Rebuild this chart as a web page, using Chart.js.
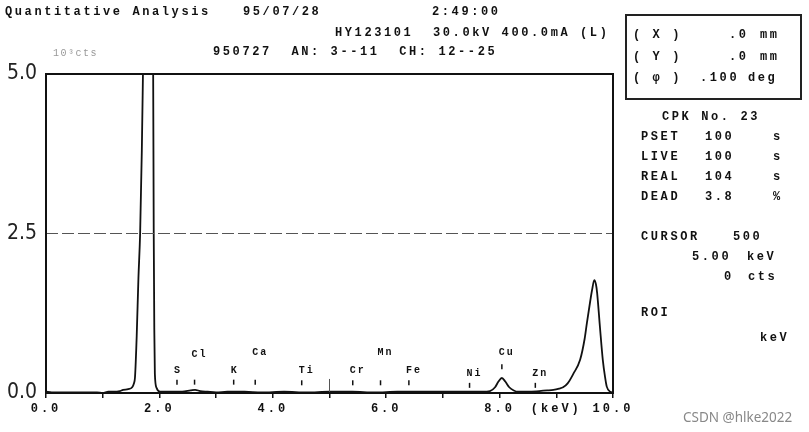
<!DOCTYPE html>
<html>
<head>
<meta charset="utf-8">
<script src="https://cdn.jsdelivr.net/npm/chart.js@4"></script>
<style>
  html, body { margin: 0; padding: 0; background: #fff; }
  #wrap { position: relative; width: 809px; height: 432px; overflow: hidden; }
  #wrap canvas { position: absolute; left: 0; top: 0; }
  .t { position: absolute; font-family: "Liberation Mono", "DejaVu Sans Mono", monospace; font-weight: bold;
       font-size: 12px; line-height: 14px; letter-spacing: 2.6px; color: #111; white-space: pre; }
  #box { position: absolute; left: 625px; top: 14px; width: 173px; height: 82px; border: 2px solid #222; }
  .wm { position: absolute; font-family: "Noto Sans", "DejaVu Sans", sans-serif; font-size: 13.5px; line-height: 16px; color: #888; white-space: pre; }
</style>
</head>
<body>
<div id="wrap">
  <canvas id="c" width="809" height="432"></canvas>
  <div id="box"></div>
</div>
<script>
// ---- data ----
const spectrumEnergy = [0.00, 0.10, 0.30, 0.50, 0.70, 0.90, 1.00, 1.10, 1.20, 1.30, 1.36, 1.45, 1.52, 1.55, 1.57, 1.60, 1.63, 1.66, 1.69, 1.71, 1.75, 1.80, 1.85, 1.89, 1.90, 1.91, 1.92, 1.95, 2.01, 2.20, 2.40, 2.55, 2.63, 2.72, 2.85, 3.00, 3.20, 3.50, 3.80, 4.20, 4.60, 5.00, 5.40, 5.80, 6.20, 6.60, 7.00, 7.40, 7.70, 7.83, 7.92, 7.98, 8.04, 8.10, 8.17, 8.25, 8.32, 8.50, 8.70, 8.84, 8.95, 9.05, 9.12, 9.20, 9.30, 9.42, 9.50, 9.54, 9.60, 9.63, 9.67, 9.70, 9.72, 9.77, 9.82, 9.86, 9.89, 9.95, 10.00];
const spectrumCounts = [0.02, 0.01, 0.01, 0.01, 0.01, 0.01, 0.00, 0.02, 0.02, 0.03, 0.05, 0.06, 0.09, 0.15, 0.25, 0.90, 1.80, 2.50, 3.80, 5.00, 7.50, 9.00, 7.50, 5.00, 2.50, 1.00, 0.30, 0.08, 0.02, 0.02, 0.02, 0.04, 0.05, 0.03, 0.02, 0.01, 0.02, 0.02, 0.01, 0.02, 0.01, 0.02, 0.02, 0.01, 0.02, 0.02, 0.02, 0.02, 0.02, 0.03, 0.09, 0.18, 0.235, 0.18, 0.09, 0.04, 0.02, 0.02, 0.03, 0.04, 0.05, 0.07, 0.09, 0.15, 0.30, 0.52, 0.85, 1.10, 1.45, 1.61, 1.77, 1.70, 1.57, 1.03, 0.52, 0.25, 0.10, 0.02, 0.01];

const elementNames    = ["S", "Cl", "K", "Ca", "Ti", "Cr", "Mn", "Fe", "Ni", "Cu", "Zn"];
const elementEnergies = [2.31, 2.62, 3.31, 3.69, 4.51, 5.41, 5.90, 6.40, 7.47, 8.04, 8.63];
const elementLabelLevels  = [0.36, 0.60, 0.36, 0.64, 0.36, 0.36, 0.64, 0.36, 0.31, 0.63, 0.31];
const elementMarkerLevels = [0.17, 0.17, 0.17, 0.17, 0.16, 0.16, 0.16, 0.16, 0.12, 0.41, 0.12];

const xMin = 0, xMax = 10, xStep = 1;
const yMin = 0, yMax = 5, yStep = 2.5;
const xUnitTickValue = 9, xUnitLabel = "(keV)";
const referenceLevel = 2.5;
const cursorEnergy = 5.0, cursorHeight = 0.22;
const yUnitLabel = "10\u00B3cts";

// ---- header / panel text ----
const texts = [
  ["Quantitative Analysis", 5, 5], ["95/07/28", 243, 5], ["2:49:00", 432, 5],
  ["HY123101  30.0kV 400.0mA (L)", 335, 26],
  ["950727  AN: 3--11  CH: 12--25", 213, 45],
  ["( X )", 633, 28], [".0", 729, 28], ["mm", 760, 28],
  ["( Y )", 633, 50], [".0", 729, 50], ["mm", 760, 50],
  ["( \u03C6 )", 633, 71], [".100", 700, 71], ["deg", 748, 71],
  ["CPK No. 23", 662, 110],
  ["PSET", 641, 130], ["100", 705, 130], ["s", 773, 130],
  ["LIVE", 641, 150], ["100", 705, 150], ["s", 773, 150],
  ["REAL", 641, 170], ["104", 705, 170], ["s", 773, 170],
  ["DEAD", 641, 190], ["3.8", 705, 190], ["%", 773, 190],
  ["CURSOR", 641, 230], ["500", 733, 230],
  ["5.00", 692, 250], ["keV", 747, 250],
  ["0", 724, 270], ["cts", 748, 270],
  ["ROI", 641, 306],
  ["keV", 760, 331]
];
const wrap = document.getElementById('wrap');
texts.forEach(([s, x, y]) => {
  const d = document.createElement('div');
  d.className = 't'; d.textContent = s; d.style.left = x + 'px'; d.style.top = y + 'px';
  wrap.appendChild(d);
});
const u = document.createElement('div');
u.className = 't'; u.textContent = yUnitLabel;
u.style.cssText = 'left:53px;top:47px;font-size:10px;font-weight:normal;color:#999;letter-spacing:1.5px;';
wrap.appendChild(u);
const wm = document.createElement('div');
wm.className = 'wm'; wm.textContent = 'CSDN @hlke2022'; wm.style.left = '683px'; wm.style.top = '409px';
wrap.appendChild(wm);

const spectrum = spectrumEnergy.map((e, i) => ({ x: e, y: spectrumCounts[i] }));

function spacedLabels(scale, spacing) {
  if (scale.__spaced) return;
  const orig = scale.drawLabels.bind(scale);
  scale.drawLabels = function (area) {
    const ctx = this.ctx;
    const prev = ctx.letterSpacing;
    ctx.letterSpacing = spacing;
    orig(area);
    ctx.letterSpacing = prev;
  };
  scale.__spaced = true;
}

const decor = {
  id: 'decor',
  beforeDraw(chart) {
    spacedLabels(chart.scales.x, '3px');
    spacedLabels(chart.scales.y, '0px');
  },
  afterDatasetsDraw(chart) {
    const { ctx, chartArea: a, scales: { x, y } } = chart;
    ctx.save();
    // dashed reference line
    const yr = y.getPixelForValue(referenceLevel);
    ctx.strokeStyle = '#555'; ctx.lineWidth = 1.2; ctx.setLineDash([12, 4]);
    ctx.beginPath(); ctx.moveTo(a.left, yr); ctx.lineTo(a.right, yr); ctx.stroke();
    ctx.setLineDash([]);
    // cursor
    const xc = x.getPixelForValue(cursorEnergy);
    ctx.strokeStyle = '#555'; ctx.lineWidth = 1;
    ctx.beginPath(); ctx.moveTo(xc, y.getPixelForValue(0)); ctx.lineTo(xc, y.getPixelForValue(cursorHeight)); ctx.stroke();
    // element markers
    ctx.strokeStyle = '#111'; ctx.lineWidth = 1.5;
    ctx.fillStyle = '#111';
    ctx.font = 'bold 10px "Liberation Mono", monospace';
    ctx.letterSpacing = '2px';
    ctx.textAlign = 'left'; ctx.textBaseline = 'middle';
    elementNames.forEach((n, i) => {
      const px = x.getPixelForValue(elementEnergies[i]);
      const pm = y.getPixelForValue(elementMarkerLevels[i]);
      ctx.beginPath(); ctx.moveTo(px, pm - 2.5); ctx.lineTo(px, pm + 2.5); ctx.stroke();
      ctx.fillText(n, px - 3, y.getPixelForValue(elementLabelLevels[i]));
    });
    ctx.letterSpacing = '0px';
    // frame
    ctx.strokeStyle = '#111'; ctx.lineWidth = 2;
    ctx.strokeRect(a.left, a.top, a.right - a.left, a.bottom - a.top);
    ctx.restore();
  }
};

new Chart(document.getElementById('c'), {
  type: 'scatter',
  data: {
    datasets: [{
      data: spectrum,
      showLine: true,
      borderColor: '#111',
      borderWidth: 1.8,
      pointRadius: 0,
      cubicInterpolationMode: 'monotone',
      fill: false
    }]
  },
  options: {
    responsive: false,
    animation: false,
    events: [],
    layout: { padding: { top: 74, right: 196, left: 0, bottom: 0 } },
    plugins: { legend: { display: false }, tooltip: { enabled: false } },
    scales: {
      x: {
        type: 'linear', min: xMin, max: xMax,
        afterFit(s) { s.height = 39; },
        border: { display: false },
        grid: { drawOnChartArea: false, drawTicks: true, tickLength: 5, color: '#111', lineWidth: 1.5 },
        ticks: {
          stepSize: xStep, autoSkip: false, maxRotation: 0, padding: 4, color: '#111',
          font: { family: '"Liberation Mono", monospace', size: 12, weight: 'bold' },
          callback: v => (v === xUnitTickValue ? xUnitLabel : (v % 2 === 0 ? v.toFixed(1) : ''))
        }
      },
      y: {
        type: 'linear', min: yMin, max: yMax,
        afterFit(s) { s.width = 46; },
        border: { display: false },
        grid: { display: false, drawTicks: false },
        ticks: {
          stepSize: yStep, padding: 9, color: '#222',
          font: { family: '"Liberation Sans Narrow", "DejaVu Sans Condensed", "DejaVu Sans Mono", monospace', size: 21 },
          callback: v => v.toFixed(1)
        }
      }
    }
  },
  plugins: [decor]
});
</script>
</body>
</html>
